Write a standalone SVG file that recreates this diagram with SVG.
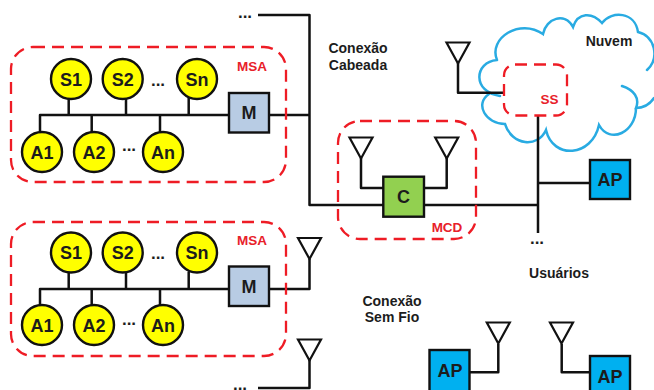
<svg xmlns="http://www.w3.org/2000/svg" width="654" height="390" viewBox="0 0 654 390">
<style>
text{font-family:"Liberation Sans",Arial,sans-serif;font-weight:bold;text-anchor:middle;fill:#1c1c1c}
.n{font-size:18px}
.l{font-size:14px}
.r{font-size:13.500px;fill:#e8202a}
.d{font-size:17px}
.w{fill:none;stroke:#111;stroke-width:2.500;stroke-linejoin:round}
.g{fill:none;stroke:#ee1c25;stroke-width:2.300;stroke-dasharray:12 7}
.o{stroke:#111;stroke-width:2.400}
.y{fill:#ffff00}
.m{fill:#b8cce4}
.a{fill:#00b0f0}
</style>
<defs>
<g id="sa">
<path class="w" d="M40 133V115H228M68.700 115V98M126 115V98M188.700 115V98M91.700 115V132M160 115V132"/>
</g>
<polygon id="ant" points="-11.500,0 11.500,0 0,21" fill="none" stroke="#111" stroke-width="2.200"/>
</defs>

<path id="cloud" fill="none" stroke="#29abe2" stroke-width="2.500" stroke-linecap="round" d="M497 60C488 38 520 18 543 34C546 18 565 12 573 27C578 12 592 12 602 23C612 10 635 12 638 32C655 36 660 58 647 70M622 86C634 90 640 98 636 108C644 108 650 104 654 98M636 108C636 132 610 145 599 125C592 157 553 160 546 130C538 148 512 146 505 124C486 124 474 104 489 94M497 60C474 62 472 92 500 96"/>

<g id="connectors">
<use href="#sa"/>
<use href="#sa" y="174"/>
<path class="w" d="M258 15H309.500V205H538M538 116V233M538 183H590M269 115H309.500"/>
<path class="w" d="M269 289H309.500V259M309.500 360V388H258"/>
<path class="w" d="M361 158V188H383M446.700 158V188H424"/>
<path class="w" d="M458 63V92.700H504"/>
<path class="w" d="M470 372.300H498.300V344M590 372.300H561.700V344"/>
</g>

<g id="msa1"><rect class="g" x="11" y="47" width="275" height="135" rx="22"/><text class="r" x="252" y="71">MSA</text></g>
<g id="msa2"><rect class="g" x="11" y="222" width="275" height="134" rx="22"/><text class="r" x="252" y="245">MSA</text></g>
<g id="mcd"><rect class="g" x="338" y="121" width="138" height="118" rx="22"/><text class="r" x="447" y="232">MCD</text></g>
<g id="ss"><rect class="g" x="504" y="64.500" width="63" height="51" rx="11"/><text class="r" x="549.500" y="104">SS</text></g>

<g id="s1a"><circle class="y o" cx="71" cy="79" r="20"/><text class="n" x="71" y="85.500">S1</text></g>
<g id="s2a"><circle class="y o" cx="122.700" cy="79" r="20"/><text class="n" x="122.700" y="85.500">S2</text></g>
<g id="sna"><circle class="y o" cx="197" cy="79" r="20"/><text class="n" x="197" y="85.500">Sn</text></g>
<g id="a1a"><circle class="y o" cx="42" cy="152" r="20"/><text class="n" x="42" y="158.500">A1</text></g>
<g id="a2a"><circle class="y o" cx="94" cy="152" r="20"/><text class="n" x="94" y="158.500">A2</text></g>
<g id="ana"><circle class="y o" cx="163" cy="152" r="20"/><text class="n" x="163" y="158.500">An</text></g>
<g id="ma"><rect class="m o" x="229" y="93" width="40" height="39.500"/><text class="n" x="249" y="119">M</text></g>

<g id="s1b"><circle class="y o" cx="71" cy="252.500" r="20"/><text class="n" x="71" y="259">S1</text></g>
<g id="s2b"><circle class="y o" cx="122.700" cy="252.500" r="20"/><text class="n" x="122.700" y="259">S2</text></g>
<g id="snb"><circle class="y o" cx="197" cy="252.500" r="20"/><text class="n" x="197" y="259">Sn</text></g>
<g id="a1b"><circle class="y o" cx="42" cy="325" r="20"/><text class="n" x="42" y="331.500">A1</text></g>
<g id="a2b"><circle class="y o" cx="94" cy="325" r="20"/><text class="n" x="94" y="331.500">A2</text></g>
<g id="anb"><circle class="y o" cx="163" cy="325" r="20"/><text class="n" x="163" y="331.500">An</text></g>
<g id="mb"><rect class="m o" x="229" y="266.500" width="40" height="39.500"/><text class="n" x="249" y="292.500">M</text></g>

<g id="c"><rect fill="#92d050" class="o" x="383.300" y="176.700" width="40.700" height="40"/><text class="n" x="403.500" y="203">C</text></g>
<g id="ap1"><rect class="a o" x="590" y="160" width="40" height="39"/><text class="n" x="610" y="186">AP</text></g>
<g id="ap2"><rect class="a o" x="429.500" y="350" width="40" height="42"/><text class="n" x="450" y="377">AP</text></g>
<g id="ap3"><rect class="a o" x="590" y="356" width="40" height="38"/><text class="n" x="610" y="382.500">AP</text></g>

<g id="ant1"><use href="#ant" x="309.500" y="238"/></g>
<g id="ant2"><use href="#ant" x="309.500" y="339.500"/></g>
<g id="ant3"><use href="#ant" x="361" y="137.500"/></g>
<g id="ant4"><use href="#ant" x="446.700" y="137.500"/></g>
<g id="ant5"><use href="#ant" x="458" y="42.500"/></g>
<g id="ant6"><use href="#ant" x="498.300" y="322.500"/></g>
<g id="ant7"><use href="#ant" x="561.500" y="322.500"/></g>

<g id="labels">
<text class="l" x="358" y="53">Conexão</text>
<text class="l" x="358" y="70">Cabeada</text>
<text class="l" x="392" y="306">Conexão</text>
<text class="l" x="392" y="322">Sem Fio</text>
<text class="l" x="609" y="46">Nuvem</text>
<text class="l" x="559" y="278">Usuários</text>
<text class="d" x="245" y="18">...</text>
<text class="d" x="158" y="86">...</text>
<text class="d" x="129" y="151">...</text>
<text class="d" x="158" y="259">...</text>
<text class="d" x="129" y="325">...</text>
<text class="d" x="537" y="244">...</text>
<text class="d" x="240" y="390">...</text>
</g>
</svg>
